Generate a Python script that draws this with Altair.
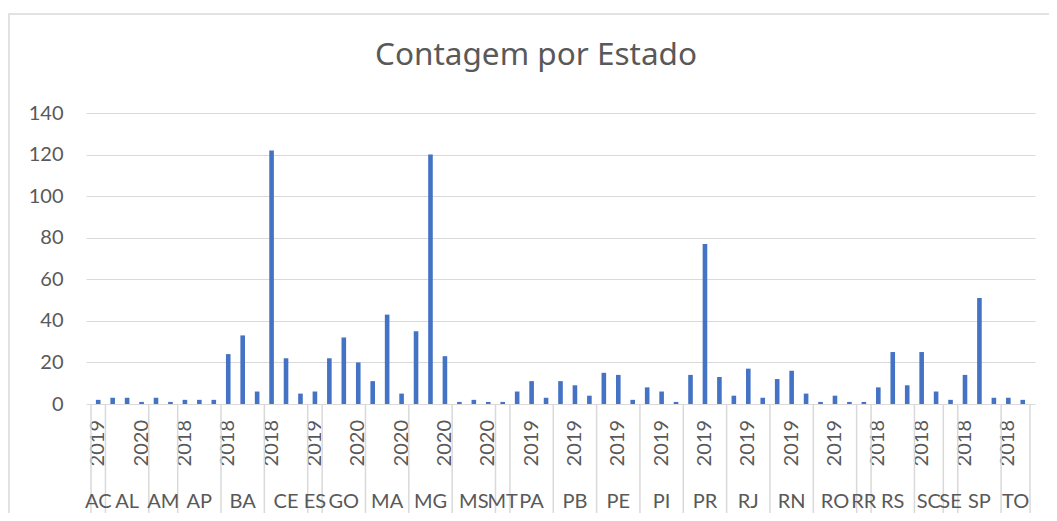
import altair as alt
import pandas as pd

# ---- data ----
states = ["AC", "AL", "AM", "AP", "BA", "CE", "ES", "GO", "MA", "MG", "MS", "MT", "PA",
          "PB", "PE", "PI", "PR", "RJ", "RN", "RO", "RR", "RS", "SC", "SE", "SP", "TO"]
years = [
    [2019], [2018, 2019, 2020], [2019, 2020], [2018, 2019, 2020], [2018, 2019, 2020],
    [2018, 2019, 2020], [2019], [2018, 2019, 2020], [2018, 2019, 2020], [2018, 2019, 2020],
    [2018, 2019, 2020], [2019], [2018, 2019, 2020], [2018, 2019, 2020], [2018, 2019, 2020],
    [2018, 2019, 2020], [2018, 2019, 2020], [2018, 2019, 2020], [2018, 2019, 2020],
    [2018, 2019, 2020], [2019], [2018, 2019, 2020], [2018, 2019], [2019],
    [2018, 2019, 2020], [2018, 2019],
]
counts = [
    [2], [3, 3, 1], [3, 1], [2, 2, 2], [24, 33, 6],
    [122, 22, 5], [6], [22, 32, 20], [11, 43, 5], [35, 120, 23],
    [1, 2, 1], [1], [6, 11, 3], [11, 9, 4], [15, 14, 2],
    [8, 6, 1], [14, 77, 13], [4, 17, 3], [12, 16, 5],
    [1, 4, 1], [1], [8, 25, 9], [25, 6], [2],
    [14, 51, 3], [3, 2],
]
y_ticks = [0, 20, 40, 60, 80, 100, 120, 140]
title_text = "Contagem por Estado"

# ---- tables built from the arrays ----
rows = []
groups = []
i = 0
for s, ys, cs in zip(states, years, counts):
    start = i
    for y, c in zip(ys, cs):
        rows.append({"idx": i, "estado": s, "ano": str(y), "contagem": c})
        i += 1
    groups.append({"estado": s, "start": start, "end": i})
bars_df = pd.DataFrame(rows)
groups_df = pd.DataFrame(groups)
n = len(rows)
bounds_df = pd.DataFrame({"b": [0] + list(groups_df["end"])})

W, H = 949, 291
FONT = "Lato"
TXT = "#595959"
GRID = "#d9d9d9"

xscale = alt.Scale(domain=[0, n], nice=False, zero=False)

border = alt.Chart(pd.DataFrame({"k": [0]})).mark_rect(
    filled=False, stroke=GRID, strokeWidth=1.5
).encode(
    x=alt.value(-77), x2=alt.value(W + 40), y=alt.value(-99), y2=alt.value(H + 140)
)

title = alt.Chart(pd.DataFrame({"t": [title_text]})).mark_text(
    font="Noto Sans", fontSize=31.5, color=TXT, align="center", baseline="alphabetic"
).encode(
    x=alt.value(450), y=alt.value(-48), text="t:N"
)

bars = alt.Chart(bars_df).transform_calculate(
    pos="datum.idx + 0.5"
).mark_bar(size=4.6, color="#4472C4").encode(
    x=alt.X("pos:Q", scale=xscale, axis=None),
    y=alt.Y(
        "contagem:Q",
        scale=alt.Scale(domain=[0, 140], nice=False),
        axis=alt.Axis(
            values=y_ticks, title=None, domain=False, ticks=False, grid=True,
            gridColor=GRID, gridWidth=1.2, labelFontSize=20, labelFont=FONT,
            labelColor=TXT, labelPadding=23,
        ),
    ),
    tooltip=["estado:N", "ano:N", "contagem:Q"],
)

year_labels = alt.Chart(bars_df).transform_filter(
    "datum.idx % 3 == 0"
).transform_calculate(
    pos="datum.idx + 0.5"
).mark_text(
    angle=270, align="right", baseline="middle", font=FONT, fontSize=20, color=TXT
).encode(
    x=alt.X("pos:Q", scale=xscale, axis=None),
    y=alt.value(H + 16),
    text="ano:N",
)

sep_rules = alt.Chart(bounds_df).mark_rule(color=GRID, strokeWidth=1.5).encode(
    x=alt.X("b:Q", scale=xscale, axis=None),
    y=alt.value(H),
    y2=alt.value(H + 111),
)

state_labels = alt.Chart(groups_df).transform_calculate(
    mid="(datum.start + datum.end) / 2"
).mark_text(
    align="center", baseline="alphabetic", font=FONT, fontSize=20, color=TXT
).encode(
    x=alt.X("mid:Q", scale=xscale, axis=None),
    y=alt.value(H + 104),
    text="estado:N",
)

chart = alt.layer(border, title, bars, year_labels, sep_rules, state_labels).properties(
    width=W,
    height=H,
    autosize=alt.AutoSizeParams(type="none"),
    padding={"left": 78, "top": 105, "right": 14, "bottom": 109},
).configure_view(stroke=None)

chart.save("out.html", embed_options={"renderer": "svg", "actions": False})
